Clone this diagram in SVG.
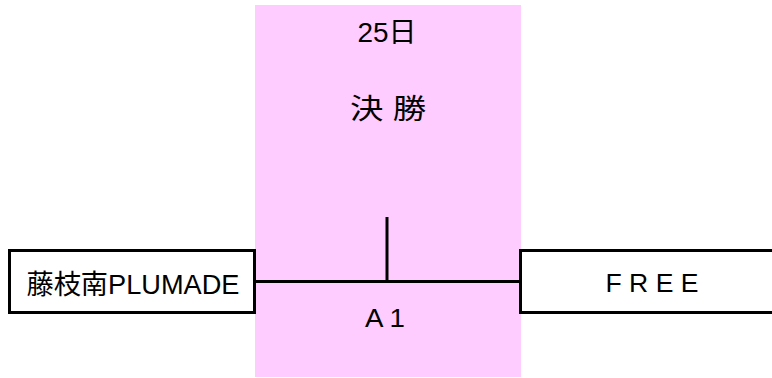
<svg xmlns="http://www.w3.org/2000/svg" width="772" height="378" viewBox="0 0 772 378">
<style>
.t{font-family:"Liberation Sans","Noto Sans CJK JP",sans-serif;fill:#000;}
.box{fill:#fff;stroke:#000;stroke-width:3;}
.ln{stroke:#000;stroke-width:3;fill:none;}
</style>
<rect x="0" y="0" width="772" height="378" fill="#fff"/>
<g id="final">
<rect x="255" y="5" width="266" height="372" fill="#ffccff"/>
<text class="t" x="387" y="42" font-size="28" text-anchor="middle" textLength="59" lengthAdjust="spacingAndGlyphs">25日</text>
<text class="t" x="388" y="119" font-size="28" text-anchor="middle" textLength="76" lengthAdjust="spacingAndGlyphs">決 勝</text>
<text class="t" x="385" y="327" font-size="25" text-anchor="middle" textLength="40" lengthAdjust="spacingAndGlyphs">A 1</text>
</g>
<g id="team-left">
<rect class="box" x="9.5" y="250.5" width="245" height="62"/>
<text class="t" x="133" y="294" font-size="27" text-anchor="middle" textLength="213" lengthAdjust="spacingAndGlyphs">藤枝南PLUMADE</text>
</g>
<g id="team-right">
<rect class="box" x="520.5" y="250.5" width="260" height="62"/>
<text class="t" x="652" y="292" font-size="26" text-anchor="middle" textLength="93" lengthAdjust="spacingAndGlyphs">F R E E</text>
</g>
<g id="connectors">
<line class="ln" x1="255" y1="281.5" x2="520" y2="281.5"/>
<line class="ln" x1="387" y1="217" x2="387" y2="281.5"/>
</g>
</svg>
